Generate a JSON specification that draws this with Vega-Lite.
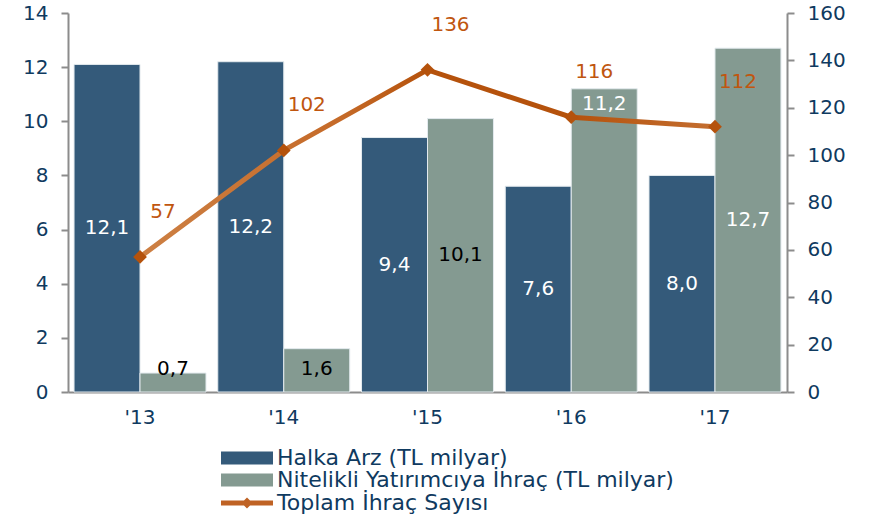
{
  "$schema": "https://vega.github.io/schema/vega-lite/v6.json",
  "width": 719,
  "height": 379,
  "autosize": "none",
  "padding": {"left": 68, "top": 13, "right": 83, "bottom": 127},
  "config": {
    "view": {"stroke": null},
    "locale": {"number": {"decimal": ",", "thousands": ".", "grouping": [3], "currency": ["", " TL"]}},
    "font": "DejaVu Sans",
    "axis": {"labelFont": "DejaVu Sans", "labelFontSize": 20, "labelColor": "#0F3A60", "domainColor": "#8C8C8C", "tickColor": "#8C8C8C", "domainWidth": 2, "tickWidth": 2, "grid": false, "title": null},
    "legend": {"labelFont": "DejaVu Sans", "labelFontSize": 22, "labelColor": "#0F3A60", "labelLimit": 0, "title": null, "direction": "vertical", "orient": "none"}
  },
  "datasets": {
    "bars": [
      {"year": "'13", "series": "Halka Arz (TL milyar)", "value": 12.1},
      {"year": "'13", "series": "Nitelikli Yatırımcıya İhraç (TL milyar)", "value": 0.7},
      {"year": "'14", "series": "Halka Arz (TL milyar)", "value": 12.2},
      {"year": "'14", "series": "Nitelikli Yatırımcıya İhraç (TL milyar)", "value": 1.6},
      {"year": "'15", "series": "Halka Arz (TL milyar)", "value": 9.4},
      {"year": "'15", "series": "Nitelikli Yatırımcıya İhraç (TL milyar)", "value": 10.1},
      {"year": "'16", "series": "Halka Arz (TL milyar)", "value": 7.6},
      {"year": "'16", "series": "Nitelikli Yatırımcıya İhraç (TL milyar)", "value": 11.2},
      {"year": "'17", "series": "Halka Arz (TL milyar)", "value": 8.0},
      {"year": "'17", "series": "Nitelikli Yatırımcıya İhraç (TL milyar)", "value": 12.7}
    ],
    "line": [
      {"year": "'13", "count": 57, "series": "Toplam İhraç Sayısı"},
      {"year": "'14", "count": 102, "series": "Toplam İhraç Sayısı"},
      {"year": "'15", "count": 136, "series": "Toplam İhraç Sayısı"},
      {"year": "'16", "count": 116, "series": "Toplam İhraç Sayısı"},
      {"year": "'17", "count": 112, "series": "Toplam İhraç Sayısı"}
    ]
  },
  "encoding": {
    "x": {
      "field": "year", "type": "nominal", "sort": null,
      "scale": {"paddingInner": 0.082, "paddingOuter": 0.042},
      "axis": {"labelAngle": 0, "ticks": false, "labelPadding": 15, "domainWidth": 2}
    }
  },
  "layer": [
    {
      "data": {"name": "bars"},
      "transform": [
        {"calculate": "datum.series == 'Nitelikli Yatırımcıya İhraç (TL milyar)' && datum.year == \"'16\" ? datum.value - 0.55 : max(datum.value / 2, 0.85)", "as": "labelPos"}
      ],
      "layer": [
        {
          "mark": {"type": "bar", "stroke": "#E3EAEE", "strokeWidth": 1},
          "encoding": {
            "xOffset": {"field": "series", "type": "nominal", "scale": {"paddingInner": 0, "paddingOuter": 0}, "sort": null},
            "y": {"field": "value", "type": "quantitative", "scale": {"domain": [0, 14]}, "axis": {"values": [0, 2, 4, 6, 8, 10, 12, 14], "tickSize": 7, "labelPadding": 13}},
            "color": {
              "field": "series", "type": "nominal",
              "scale": {"domain": ["Halka Arz (TL milyar)", "Nitelikli Yatırımcıya İhraç (TL milyar)"], "range": ["#345A7A", "#849A91"]},
              "legend": {
                "legendX": 168, "legendY": 434,
                "labelOffset": 19,
                "symbolType": "M-4,-1H4V1H-4Z",
                "symbolSize": 169, "symbolStrokeWidth": 0, "rowPadding": 0
              }
            }
          }
        },
        {
          "mark": {"type": "text", "font": "DejaVu Sans", "fontSize": 20, "baseline": "middle"},
          "encoding": {
            "xOffset": {"field": "series", "type": "nominal", "sort": null},
            "y": {"field": "labelPos", "type": "quantitative"},
            "text": {"field": "value", "type": "quantitative", "format": ".1f"},
            "color": {"condition": {"test": "datum.series == 'Halka Arz (TL milyar)' || datum.value > 11", "value": "#FFFFFF"}, "value": "#000000"}
          }
        }
      ]
    },
    {
      "data": {"name": "line"},
      "encoding": {
        "y": {"field": "count", "type": "quantitative", "scale": {"domain": [0, 160]}, "axis": {"orient": "right", "values": [0, 20, 40, 60, 80, 100, 120, 140, 160], "tickSize": 7, "labelPadding": 13}}
      },
      "layer": [
        {
          "mark": {"type": "bar", "color": "#BF6224"},
          "encoding": {
            "y": {"datum": 0},
            "y2": {"datum": 0},
            "opacity": {
              "field": "series", "type": "nominal",
              "scale": {"range": [1]},
              "legend": {
                "legendX": 168, "legendY": 479,
                "labelOffset": 19,
                "symbolType": "M-4,-0.38H4V0.38H-4ZM0,-0.85L0.85,0L0,0.85L-0.85,0Z",
                "symbolSize": 169,
                "symbolFillColor": "#BF6224",
                "symbolStrokeWidth": 0,
                "symbolOpacity": 1
              }
            }
          }
        },
        {
          "mark": {
            "type": "line", "strokeWidth": 5,
            "color": {"gradient": "linear", "x1": 0, "y1": 0, "x2": 1, "y2": 0, "stops": [
              {"offset": 0, "color": "#CD8044"},
              {"offset": 0.35, "color": "#C56A28"},
              {"offset": 0.5, "color": "#B5520C"},
              {"offset": 0.75, "color": "#B5520C"},
              {"offset": 1, "color": "#C46E30"}
            ]}
          },
          "encoding": {}
        },
        {
          "mark": {"type": "point", "shape": "diamond", "filled": true, "size": 190, "color": "#B5520C", "opacity": 1},
          "encoding": {}
        },
        {
          "mark": {"type": "text", "font": "DejaVu Sans", "fontSize": 20, "color": "#C0560F", "dx": 23, "dy": -45, "baseline": "middle"},
          "encoding": {"text": {"field": "count", "type": "quantitative"}}
        }
      ]
    }
  ],
  "resolve": {"scale": {"y": "independent"}}
}
